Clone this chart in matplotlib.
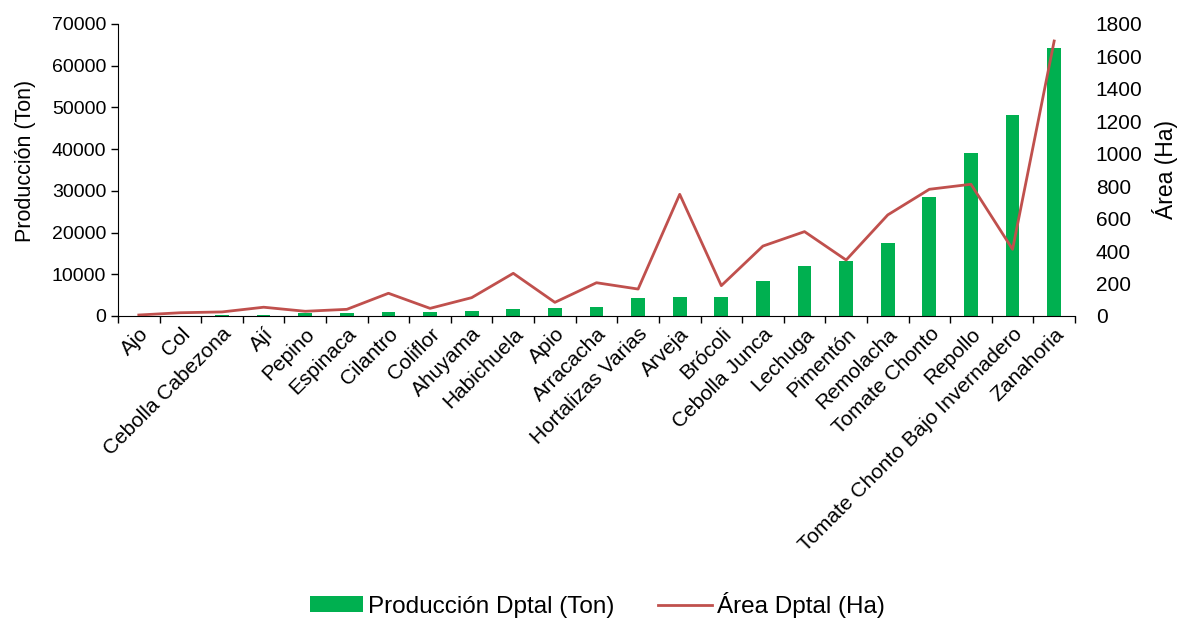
import numpy as np
import matplotlib
matplotlib.use("Agg")
import matplotlib.pyplot as plt
import matplotlib.transforms as mtransforms

plt.rcParams['font.family'] = ['Liberation Sans', 'DejaVu Sans']

cultivos = ["Ajo", "Col", "Cebolla Cabezona", "Ají", "Pepino", "Espinaca", "Cilantro",
            "Coliflor", "Ahuyama", "Habichuela", "Apio", "Arracacha", "Hortalizas Varias",
            "Arveja", "Brócoli", "Cebolla Junca", "Lechuga", "Pimentón", "Remolacha",
            "Tomate Chonto", "Repollo", "Tomate Chonto Bajo Invernadero", "Zanahoria"]
produccion = [30, 60, 120, 250, 600, 650, 850, 1000, 1300, 1600, 1850, 2100, 4300,
              4500, 4500, 8400, 12000, 13100, 17500, 28500, 39100, 48200, 64300]
area = [6, 20, 25, 54, 29, 41, 140, 47, 113, 263, 84, 205, 166,
        750, 187, 431, 520, 345, 623, 781, 812, 411, 1695]

verde = "#00B050"
rojo = "#C0504D"

fig = plt.figure(figsize=(11.8, 6.18), dpi=100)
ax = fig.add_axes([0.1, 0.4887, 0.811, 0.4725])
ax2 = ax.twinx()

x = np.arange(len(cultivos))
b = ax.bar(x, produccion, width=0.33, color=verde, zorder=2)
l, = ax2.plot(x, area, color=rojo, lw=2, zorder=3)

ax.set_xlim(-0.5, len(cultivos) - 0.5)
ax.set_ylim(0, 70000)
ax.set_yticks(np.arange(0, 70001, 10000))
ax2.set_ylim(0, 1800)
ax2.set_yticks(np.arange(0, 1801, 200))

ax.set_xticks(x)
ax.set_xticklabels(cultivos, rotation=45, ha="right", rotation_mode="anchor", fontsize=15)
desplaza = mtransforms.ScaledTranslation(7 / 100, -3 / 100, fig.dpi_scale_trans)
for t in ax.get_xticklabels():
    t.set_transform(t.get_transform() + desplaza)
ax.set_xticks(np.arange(-0.5, len(cultivos)), minor=True)
ax.tick_params(axis="x", which="major", length=0, pad=6)
ax.tick_params(axis="x", which="minor", length=5, width=1, direction="out")
ax.tick_params(axis="y", labelsize=14, length=5, width=1)
ax2.tick_params(axis="y", labelsize=15, length=0, pad=15)

for s in ["top", "right"]:
    ax.spines[s].set_visible(False)
for s in ["top", "right", "left", "bottom"]:
    ax2.spines[s].set_visible(False)

ax.set_ylabel("Producción (Ton)", fontsize=15.5)
ax.yaxis.set_label_coords(-0.0855, 0.53)
ax2.set_ylabel("Área (Ha)", fontsize=16.5)
ax2.yaxis.set_label_coords(1.08, 0.5)

fig.legend([b, l], ["Producción Dptal (Ton)", "Área Dptal (Ha)"], loc="lower center",
           bbox_to_anchor=(0.506, -0.035), ncol=2, frameon=False, fontsize=17.5,
           handlelength=2.2, handleheight=0.6, handletextpad=0.2, columnspacing=1.8)

fig.savefig("out.png", dpi=100)
